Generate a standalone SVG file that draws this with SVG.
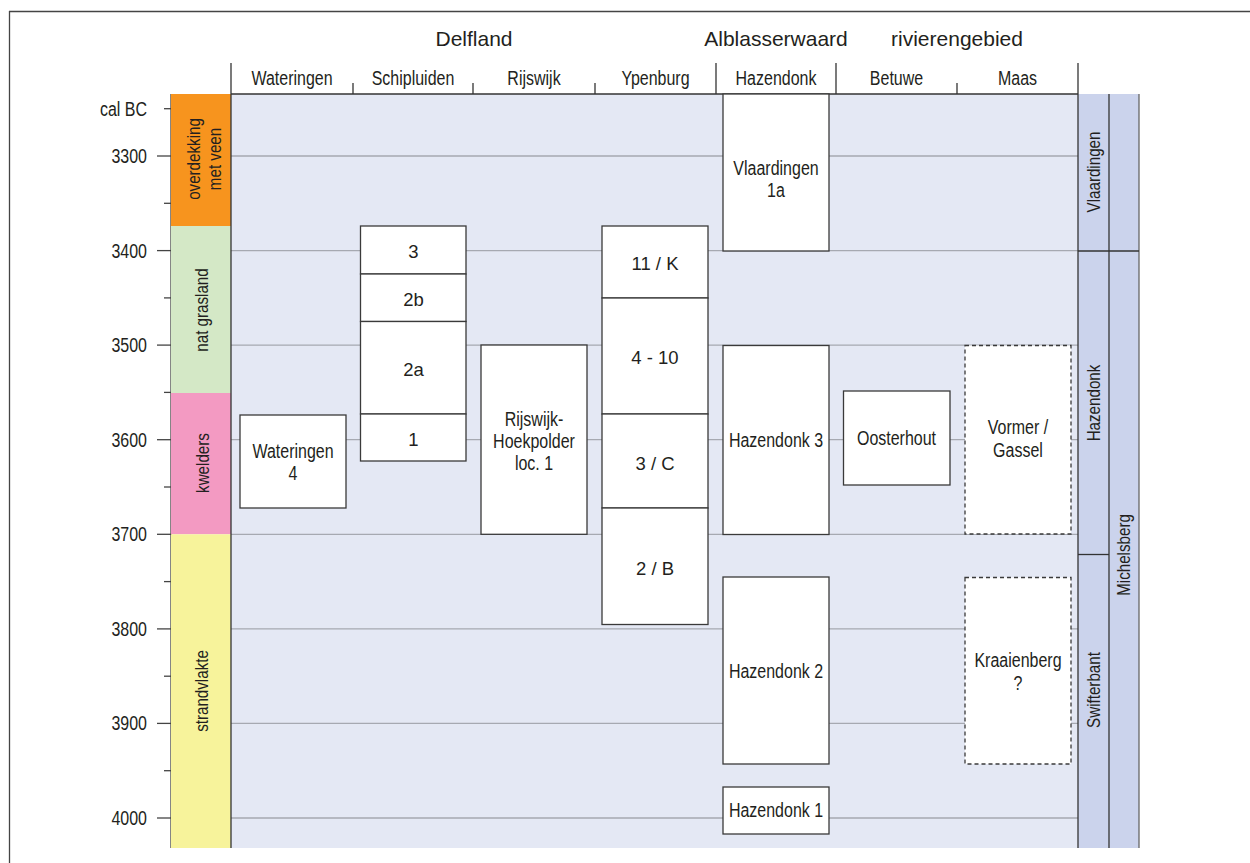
<svg xmlns="http://www.w3.org/2000/svg" width="1250" height="863" viewBox="0 0 1250 863">
<style>
  .n { font-family: "Liberation Sans", Arial, sans-serif; font-size: 19.5px; fill: #231F20; }
  .v { font-family: "Liberation Sans", Arial, sans-serif; font-size: 18.5px; fill: #231F20; text-anchor: middle; }
  .r { font-family: "Liberation Sans", Arial, sans-serif; font-size: 18.5px; fill: #231F20; }
  .g { font-family: "Liberation Sans", Arial, sans-serif; font-size: 21px; fill: #231F20; }
  .m { text-anchor: middle; }
  .e { text-anchor: end; }
  .box { fill: #FFFFFF; stroke: #3A3A3A; stroke-width: 1.3; }
  .dash { fill: #FFFFFF; stroke: #3A3A3A; stroke-width: 1.3; stroke-dasharray: 4 3; }
  .grid { stroke: #A6A9B1; stroke-width: 1.3; fill: none; }
  .dk { stroke: #333333; stroke-width: 1.3; fill: none; }
  .tk { stroke: #444444; stroke-width: 1.3; fill: none; }
</style>

<!-- frame -->
<g id="frame">
  <line x1="9" y1="11.5" x2="1250" y2="11.5" class="tk"/>
  <line x1="9.5" y1="11" x2="9.5" y2="863" class="tk"/>
</g>

<!-- backgrounds -->
<g id="plot-area">
  <rect x="231" y="94" width="847" height="754" fill="#E4E8F4"/>
  <rect x="1078" y="94" width="61" height="754" fill="#CBD3EC"/>
</g>

<!-- gridlines -->
<g id="connectors">
  <line x1="231" y1="156" x2="1078" y2="156" class="grid"/>
  <line x1="231" y1="250.6" x2="1078" y2="250.6" class="grid"/>
  <line x1="231" y1="345.1" x2="1078" y2="345.1" class="grid"/>
  <line x1="231" y1="439.7" x2="1078" y2="439.7" class="grid"/>
  <line x1="231" y1="534.3" x2="1078" y2="534.3" class="grid"/>
  <line x1="231" y1="628.9" x2="1078" y2="628.9" class="grid"/>
  <line x1="231" y1="723.4" x2="1078" y2="723.4" class="grid"/>
  <line x1="231" y1="818" x2="1078" y2="818" class="grid"/>
</g>

<!-- time axis -->
<g id="axis">
  <line x1="171" y1="94" x2="171" y2="848" class="tk"/>
  <line x1="164" y1="108.7" x2="171" y2="108.7" class="tk"/>
  <line x1="157" y1="156" x2="171" y2="156" class="tk"/>
  <line x1="164" y1="203.3" x2="171" y2="203.3" class="tk"/>
  <line x1="157" y1="250.6" x2="171" y2="250.6" class="tk"/>
  <line x1="164" y1="297.9" x2="171" y2="297.9" class="tk"/>
  <line x1="157" y1="345.1" x2="171" y2="345.1" class="tk"/>
  <line x1="164" y1="392.4" x2="171" y2="392.4" class="tk"/>
  <line x1="157" y1="439.7" x2="171" y2="439.7" class="tk"/>
  <line x1="164" y1="487" x2="171" y2="487" class="tk"/>
  <line x1="157" y1="534.3" x2="171" y2="534.3" class="tk"/>
  <line x1="164" y1="581.6" x2="171" y2="581.6" class="tk"/>
  <line x1="157" y1="628.9" x2="171" y2="628.9" class="tk"/>
  <line x1="164" y1="676.2" x2="171" y2="676.2" class="tk"/>
  <line x1="157" y1="723.4" x2="171" y2="723.4" class="tk"/>
  <line x1="164" y1="770.7" x2="171" y2="770.7" class="tk"/>
  <line x1="157" y1="818" x2="171" y2="818" class="tk"/>
  <text transform="translate(147,116) scale(0.82 1)" class="n e">cal BC</text>
  <text transform="translate(147,163) scale(0.82 1)" class="n e">3300</text>
  <text transform="translate(147,257.5) scale(0.82 1)" class="n e">3400</text>
  <text transform="translate(147,352) scale(0.82 1)" class="n e">3500</text>
  <text transform="translate(147,446.5) scale(0.82 1)" class="n e">3600</text>
  <text transform="translate(147,541) scale(0.82 1)" class="n e">3700</text>
  <text transform="translate(147,635.5) scale(0.82 1)" class="n e">3800</text>
  <text transform="translate(147,730) scale(0.82 1)" class="n e">3900</text>
  <text transform="translate(147,825) scale(0.82 1)" class="n e">4000</text>
</g>

<!-- landscape column -->
<g id="landscape-overdekking">
  <rect x="171" y="94" width="60" height="132" fill="#F7941E"/>
  <text transform="translate(200,159) rotate(-90) scale(0.82 1)" class="v">overdekking</text>
  <text transform="translate(221,159) rotate(-90) scale(0.82 1)" class="v">met veen</text>
</g>
<g id="landscape-grasland">
  <rect x="171" y="226" width="60" height="167" fill="#D4E8C6"/>
  <text transform="translate(208,310) rotate(-90) scale(0.82 1)" class="v">nat grasland</text>
</g>
<g id="landscape-kwelders">
  <rect x="171" y="393" width="60" height="141.3" fill="#F39AC2"/>
  <text transform="translate(209,463) rotate(-90) scale(0.82 1)" class="v">kwelders</text>
</g>
<g id="landscape-strandvlakte">
  <rect x="171" y="534.3" width="60" height="313.7" fill="#F7F39B"/>
  <text transform="translate(208,691) rotate(-90) scale(0.82 1)" class="v">strandvlakte</text>
</g>

<!-- header -->
<g id="header">
  <text x="474" y="46" class="g m">Delfland</text>
  <text x="776" y="46" class="g m">Alblasserwaard</text>
  <text x="957" y="46" class="g m">rivierengebied</text>
  <line x1="231" y1="94" x2="1078" y2="94" class="dk"/>
  <line x1="231" y1="63" x2="231" y2="848" class="dk"/>
  <line x1="1078" y1="63" x2="1078" y2="848" class="dk"/>
  <line x1="716" y1="63" x2="716" y2="94" class="dk"/>
  <line x1="836" y1="63" x2="836" y2="94" class="dk"/>
  <line x1="353" y1="83" x2="353" y2="94" class="dk"/>
  <line x1="473" y1="83" x2="473" y2="94" class="dk"/>
  <line x1="595" y1="83" x2="595" y2="94" class="dk"/>
  <line x1="957" y1="83" x2="957" y2="94" class="dk"/>
  <text transform="translate(292,85) scale(0.82 1)" class="n m">Wateringen</text>
  <text transform="translate(413,85) scale(0.82 1)" class="n m">Schipluiden</text>
  <text transform="translate(534,85) scale(0.82 1)" class="n m">Rijswijk</text>
  <text transform="translate(655.5,85) scale(0.82 1)" class="n m">Ypenburg</text>
  <text transform="translate(776,85) scale(0.82 1)" class="n m">Hazendonk</text>
  <text transform="translate(896.5,85) scale(0.82 1)" class="n m">Betuwe</text>
  <text transform="translate(1017.5,85) scale(0.82 1)" class="n m">Maas</text>
</g>

<!-- culture columns -->
<g id="cultures">
  <line x1="1109" y1="94" x2="1109" y2="848" class="dk"/>
  <line x1="1139" y1="94" x2="1139" y2="848" stroke="#666" stroke-width="1.3"/>
  <line x1="1078" y1="251" x2="1139" y2="251" class="dk"/>
  <line x1="1078" y1="554.5" x2="1109" y2="554.5" class="dk"/>
  <text transform="translate(1100,172) rotate(-90) scale(0.82 1)" class="v">Vlaardingen</text>
  <text transform="translate(1100,403) rotate(-90) scale(0.82 1)" class="v">Hazendonk</text>
  <text transform="translate(1100,690) rotate(-90) scale(0.82 1)" class="v">Swifterbant</text>
  <text transform="translate(1130,555) rotate(-90) scale(0.82 1)" class="v">Michelsberg</text>
</g>

<!-- Wateringen -->
<g id="wateringen-4">
  <rect x="240" y="415" width="106" height="93" class="box"/>
  <text transform="translate(293,458) scale(0.82 1)" class="n m">Wateringen</text>
  <text transform="translate(293,480) scale(0.82 1)" class="n m">4</text>
</g>

<!-- Schipluiden -->
<g id="schipluiden-3">
  <rect x="360.5" y="226" width="105.5" height="48" class="box"/>
  <text x="413.5" y="257.5" class="r m">3</text>
</g>
<g id="schipluiden-2b">
  <rect x="360.5" y="274" width="105.5" height="47.5" class="box"/>
  <text x="413.5" y="305.5" class="r m">2b</text>
</g>
<g id="schipluiden-2a">
  <rect x="360.5" y="321.5" width="105.5" height="92.5" class="box"/>
  <text x="413.5" y="375.5" class="r m">2a</text>
</g>
<g id="schipluiden-1">
  <rect x="360.5" y="414" width="105.5" height="47" class="box"/>
  <text x="413.5" y="446" class="r m">1</text>
</g>

<!-- Rijswijk -->
<g id="rijswijk">
  <rect x="481" y="345" width="106" height="189.3" class="box"/>
  <text transform="translate(534,426) scale(0.82 1)" class="n m">Rijswijk-</text>
  <text transform="translate(534,448) scale(0.82 1)" class="n m">Hoekpolder</text>
  <text transform="translate(534,470) scale(0.82 1)" class="n m">loc. 1</text>
</g>

<!-- Ypenburg -->
<g id="ypenburg-11K">
  <rect x="602" y="226" width="106" height="72" class="box"/>
  <text x="655" y="269.5" class="r m">11 / K</text>
</g>
<g id="ypenburg-4-10">
  <rect x="602" y="298" width="106" height="116" class="box"/>
  <text x="655" y="364" class="r m">4 - 10</text>
</g>
<g id="ypenburg-3C">
  <rect x="602" y="414" width="106" height="94" class="box"/>
  <text x="655" y="469.5" class="r m">3 / C</text>
</g>
<g id="ypenburg-2B">
  <rect x="602" y="508" width="106" height="116.5" class="box"/>
  <text x="655" y="574.5" class="r m">2 / B</text>
</g>

<!-- Hazendonk -->
<g id="vlaardingen-1a">
  <rect x="723" y="94" width="106" height="157" class="box"/>
  <text transform="translate(776,175) scale(0.82 1)" class="n m">Vlaardingen</text>
  <text transform="translate(776,197) scale(0.82 1)" class="n m">1a</text>
</g>
<g id="hazendonk-3">
  <rect x="723" y="345.5" width="106" height="189" class="box"/>
  <text transform="translate(776,446.5) scale(0.82 1)" class="n m">Hazendonk 3</text>
</g>
<g id="hazendonk-2">
  <rect x="723" y="577" width="106" height="187" class="box"/>
  <text transform="translate(776,678) scale(0.82 1)" class="n m">Hazendonk 2</text>
</g>
<g id="hazendonk-1">
  <rect x="723" y="787" width="106" height="47" class="box"/>
  <text transform="translate(776,817) scale(0.82 1)" class="n m">Hazendonk 1</text>
</g>

<!-- Betuwe -->
<g id="oosterhout">
  <rect x="843.5" y="391" width="106.5" height="94" class="box"/>
  <text transform="translate(896.5,445) scale(0.82 1)" class="n m">Oosterhout</text>
</g>

<!-- Maas -->
<g id="vormer-gassel">
  <rect x="965" y="345.5" width="106" height="188.5" class="dash"/>
  <text transform="translate(1018,434) scale(0.82 1)" class="n m">Vormer /</text>
  <text transform="translate(1018,457) scale(0.82 1)" class="n m">Gassel</text>
</g>
<g id="kraaienberg">
  <rect x="965" y="577.5" width="106" height="186.5" class="dash"/>
  <text transform="translate(1018,667) scale(0.82 1)" class="n m">Kraaienberg</text>
  <text transform="translate(1018,690) scale(0.82 1)" class="n m">?</text>
</g>
</svg>
